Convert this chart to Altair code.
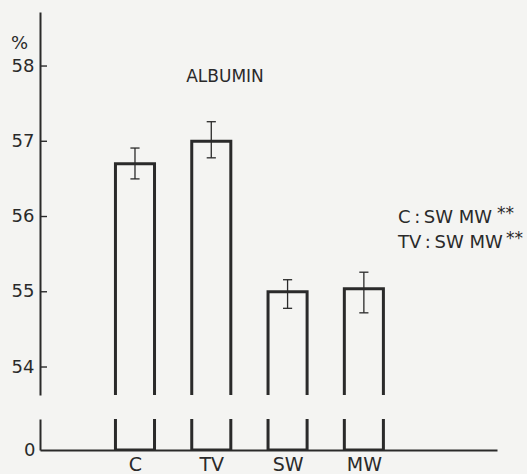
import altair as alt
import pandas as pd

# ---- data ----
categories = ["C", "TV", "SW", "MW"]
positions = [1, 2, 3, 4]
means = [56.70, 57.00, 55.00, 55.04]
err_hi = [56.91, 57.26, 55.16, 55.26]
err_lo = [56.50, 56.78, 54.78, 54.72]
y_ticks = [54, 55, 56, 57, 58]

note_lines = ["C\u2009:\u2009SW MW", "TV\u2009:\u2009SW MW"]
note_stars = ["**", "**"]

INK = "#2a2a2a"
FONT = "DejaVu Sans"
BAR_HALF = 0.256
CAP_HALF = 0.06
X_DOMAIN = [-0.245, 5.745]
TOP_DOMAIN = [53.628, 58.718]

df = pd.DataFrame({"cat": categories, "pos": positions, "mean": means,
                   "hi": err_hi, "lo": err_lo})

xq = alt.Scale(domain=X_DOMAIN, nice=False, zero=False)
yq = alt.Scale(domain=TOP_DOMAIN, nice=False, zero=False)

base = alt.Chart(df).transform_calculate(
    xl=f"datum.pos - {BAR_HALF}", xr=f"datum.pos + {BAR_HALF}",
    cl=f"datum.pos - {CAP_HALF}", cr=f"datum.pos + {CAP_HALF}",
    floor="53.0"
)

y_axis_top = alt.Axis(values=y_ticks, format="d", ticks=False, grid=False, domainColor=INK,
                      domainWidth=2, labelFontSize=18, labelFont=FONT, labelColor=INK,
                      labelPadding=6, title="%", titleAngle=0, titleX=-21, titleY=36,
                      titleAlign="center", titleBaseline="alphabetic", titleFont=FONT,
                      titleFontSize=18, titleFontWeight="normal", titleColor=INK)

bars_top = base.mark_bar(fillOpacity=0, stroke=INK, strokeWidth=3, clip=True).encode(
    x=alt.X("xl:Q", scale=xq, axis=None),
    x2="xr:Q",
    y=alt.Y("mean:Q", scale=yq, axis=y_axis_top),
    y2="floor:Q",
)
err_v = base.mark_rule(color=INK, strokeWidth=1.3).encode(
    x=alt.X("pos:Q", scale=xq), y=alt.Y("lo:Q", scale=yq), y2="hi:Q")
cap_hi = base.mark_rule(color=INK, strokeWidth=1.3).encode(
    x=alt.X("cl:Q", scale=xq), x2="cr:Q", y=alt.Y("hi:Q", scale=yq))
cap_lo = base.mark_rule(color=INK, strokeWidth=1.3).encode(
    x=alt.X("cl:Q", scale=xq), x2="cr:Q", y=alt.Y("lo:Q", scale=yq))

ticks_df = pd.DataFrame({"t": y_ticks})
ticks = alt.Chart(ticks_df).mark_rule(color=INK, strokeWidth=1.4).encode(
    y=alt.Y("t:Q", scale=yq), x=alt.value(0), x2=alt.value(7))

title_df = pd.DataFrame({"label": ["ALBUMIN"], "x": [2.18], "y": [57.787]})
title_txt = alt.Chart(title_df).mark_text(font=FONT, fontSize=17, color=INK,
                                          align="center", baseline="alphabetic").encode(
    x=alt.X("x:Q", scale=xq), y=alt.Y("y:Q", scale=yq), text="label:N")

notes_df = pd.DataFrame({"label": note_lines, "x": [4.447, 4.447], "y": [55.914, 55.581]})
notes_txt = alt.Chart(notes_df).mark_text(font=FONT, fontSize=18, color=INK,
                                          align="left", baseline="alphabetic").encode(
    x=alt.X("x:Q", scale=xq), y=alt.Y("y:Q", scale=yq), text="label:N")
stars_df = pd.DataFrame({"label": note_stars, "x": [5.745, 5.862], "y": [55.967, 55.635]})
stars_txt = alt.Chart(stars_df).mark_text(font=FONT, fontSize=17, color=INK,
                                          align="left", baseline="alphabetic").encode(
    x=alt.X("x:Q", scale=xq), y=alt.Y("y:Q", scale=yq), text="label:N")

top = alt.layer(bars_top, err_v, cap_hi, cap_lo, ticks, title_txt, notes_txt,
                stars_txt).properties(width=457, height=383)

# ---- lower (broken) part near zero ----
yl = alt.Scale(domain=[0, 1], nice=False, zero=False)
label_expr = "['', 'C', 'TV', 'SW', 'MW'][datum.value]"
bars_low = base.transform_calculate(top_="5").mark_bar(
    fillOpacity=0, stroke=INK, strokeWidth=3, clip=True).encode(
    x=alt.X("xl:Q", scale=xq, axis=alt.Axis(values=positions, labelExpr=label_expr,
                                             ticks=False, grid=False, domainColor=INK,
                                             domainWidth=2, labelFontSize=19,
                                             labelFont=FONT, labelColor=INK,
                                             labelPadding=5, title=None)),
    x2="xr:Q",
    y=alt.Y("top_:Q", scale=yl, axis=alt.Axis(values=[0], ticks=False, grid=False,
                                               domainColor=INK, domainWidth=2,
                                               labelFontSize=18, labelFont=FONT,
                                               labelColor=INK, labelPadding=5,
                                               title=None)),
    y2=alt.datum(0),
)
low = bars_low.properties(width=457, height=31)

chart = alt.vconcat(top, low, spacing=24).properties(
    padding={"left": 10, "top": 12, "right": 4, "bottom": 0},
    background="#f4f4f2",
).configure_view(stroke=None)

chart.save("out.html", embed_options={"renderer": "svg", "actions": False})
